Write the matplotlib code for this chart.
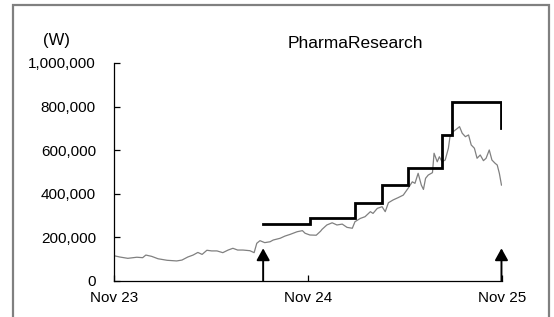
import numpy as np
import pandas as pd
import matplotlib
matplotlib.use('Agg')
import matplotlib.pyplot as plt
from matplotlib.patches import Rectangle
from matplotlib.ticker import FuncFormatter

# 주가 (단위: 천원)
price_dates = [
    "2023-11-01", "2023-11-12", "2023-11-27", "2023-12-14", "2023-12-25", "2023-12-31",
    "2024-01-11", "2024-01-23", "2024-02-09", "2024-02-27", "2024-03-08", "2024-03-19",
    "2024-03-29", "2024-04-07", "2024-04-15", "2024-04-24", "2024-05-03", "2024-05-13",
    "2024-05-24", "2024-06-03", "2024-06-12", "2024-06-21", "2024-07-01", "2024-07-14",
    "2024-07-22", "2024-07-27", "2024-08-02", "2024-08-11", "2024-08-21", "2024-08-27",
    "2024-09-09", "2024-09-18", "2024-09-28", "2024-10-11", "2024-10-21", "2024-10-26",
    "2024-11-04", "2024-11-16", "2024-11-24", "2024-11-27", "2024-12-06", "2024-12-16",
    "2024-12-25", "2025-01-04", "2025-01-13", "2025-01-23", "2025-01-28", "2025-02-07",
    "2025-02-16", "2025-02-26", "2025-03-03", "2025-03-11", "2025-03-20", "2025-03-26",
    "2025-04-01", "2025-04-10", "2025-04-19", "2025-04-29", "2025-05-08", "2025-05-16",
    "2025-05-21", "2025-05-27", "2025-06-02", "2025-06-06", "2025-06-10", "2025-06-15",
    "2025-06-23", "2025-06-26", "2025-07-02", "2025-07-06", "2025-07-11", "2025-07-17",
    "2025-07-23", "2025-07-26", "2025-08-01", "2025-08-09", "2025-08-13", "2025-08-18",
    "2025-08-24", "2025-08-30", "2025-09-04", "2025-09-10", "2025-09-15", "2025-09-21",
    "2025-09-27", "2025-10-02", "2025-10-08", "2025-10-13", "2025-10-19", "2025-10-23",
    "2025-10-27", "2025-10-31",
]
price_k = [
    116, 110, 104, 109, 107, 119,
    113, 102, 95, 92, 96, 110,
    119, 131, 122, 141, 138, 138,
    130, 142, 150, 142, 142, 139,
    130, 173, 185, 176, 180, 188,
    196, 206, 214, 226, 231, 219,
    211, 210, 228, 237, 257, 267,
    257, 261, 246, 242, 272, 287,
    295, 318, 310, 333, 341, 318,
    359, 372, 382, 394, 425, 455,
    448, 494, 440, 420, 471, 486,
    497, 586, 547, 570, 547, 555,
    609, 662, 685, 700, 708, 678,
    662, 670, 624, 609, 563, 578,
    552, 563, 601, 555, 540, 532,
    494, 440,
]

# 목표주가
target_dates = ["2024-08-08", "2024-11-05", "2025-01-28", "2025-03-19", "2025-05-08",
                "2025-07-11", "2025-07-30", "2025-10-31", "2025-10-31"]
target_price = [260000, 290000, 360000, 440000, 520000, 670000, 820000, 820000, 700000]

# 화살표(리포트 시점)
arrow_dates = ["2024-08-08", "2025-10-31"]
arrow_top = 150000

xtick_dates = ["2023-11-01", "2024-11-01", "2025-11-01"]
xtick_labels = ["Nov 23", "Nov 24", "Nov 25"]
yticks = [0, 200000, 400000, 600000, 800000, 1000000]

plt.rcParams.update({
    'font.family': ['Liberation Sans', 'DejaVu Sans'],
    'font.size': 11,
})

fig = plt.figure(figsize=(5.54, 3.17), dpi=100)
ax = fig.add_axes([114 / 554, 1 - 281 / 317, 388 / 554, 218 / 317])

px = pd.to_datetime(price_dates)
ax.plot(px, np.array(price_k) * 1000, color='#808080', lw=0.9)
ax.plot(pd.to_datetime(target_dates), target_price, color='black', lw=2.0,
        drawstyle='steps-post', solid_joinstyle='miter')

for d in pd.to_datetime(arrow_dates):
    ax.annotate('', xy=(d, arrow_top), xytext=(d, 0),
                arrowprops=dict(arrowstyle='-|>,head_length=0.65,head_width=0.36',
                                color='black', lw=1.4, shrinkA=0, shrinkB=0),
                annotation_clip=False)

ax.set_xlim(pd.Timestamp(xtick_dates[0]), pd.Timestamp(xtick_dates[-1]))
ax.set_ylim(0, 1000000)
ax.set_xticks(pd.to_datetime(xtick_dates))
ax.set_xticklabels(xtick_labels)
ax.set_yticks(yticks)
ax.yaxis.set_major_formatter(FuncFormatter(lambda v, p: f"{int(v):,}"))
ax.tick_params(axis='both', direction='in', length=4, width=0.9, colors='black')
ax.tick_params(axis='y', pad=13)
ax.tick_params(axis='x', pad=7)
for s in ['top', 'right']:
    ax.spines[s].set_visible(False)
for s in ['left', 'bottom']:
    ax.spines[s].set_linewidth(0.9)

fig.text(57 / 554, 1 - 40 / 317, "(W)", ha='center', va='center', fontsize=12)
fig.text(355 / 554, 1 - 43 / 317, "PharmaResearch", ha='center', va='center', fontsize=12.5)

# 바깥 테두리
frame = Rectangle((13 / 554, -0.05), (549 - 13) / 554, 1.05 - 5 / 317,
                  transform=fig.transFigure, fill=False, edgecolor='#808080', lw=1.6,
                  clip_on=False)
fig.patches.append(frame)

fig.savefig('out.png', dpi=100)
plt.close()
